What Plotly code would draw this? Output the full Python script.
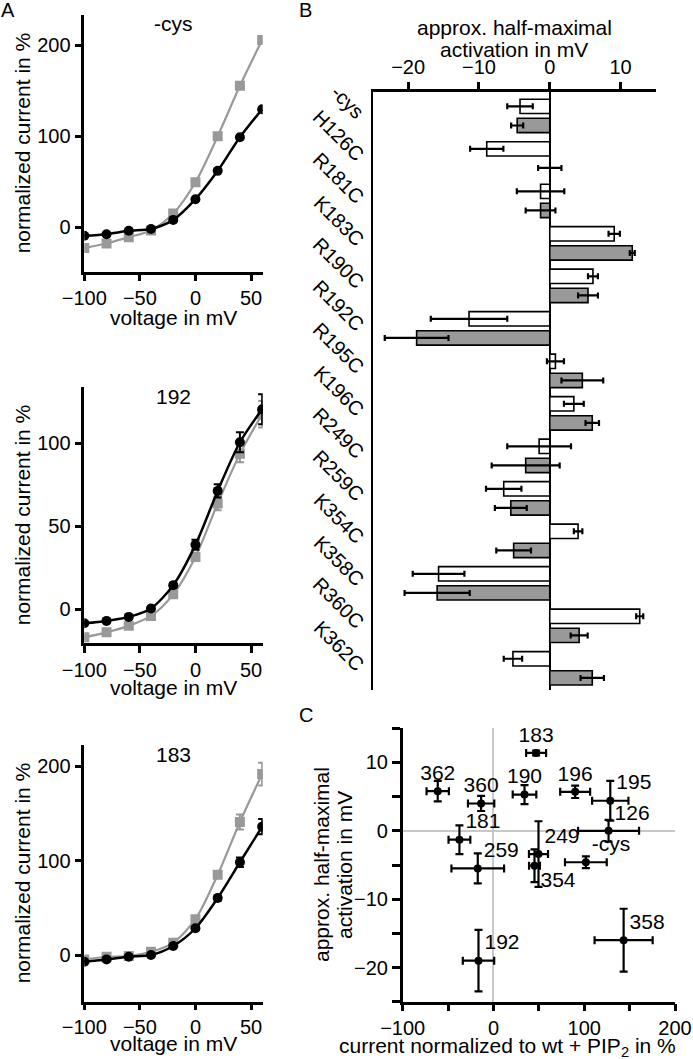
import plotly.graph_objects as go

W, H = 693, 1059
FONT = "Liberation Sans, Arial, sans-serif"
GRAY = "#999999"

# ---------------- Panel A data ----------------
voltage = [-100, -80, -60, -40, -20, 0, 20, 40, 60]
voltage_ticks = [-100, -50, 0, 50]

cys_black = [-9.5, -7.7, -4, -2, 8, 30.8, 62, 99, 129.7]
cys_gray = [-23, -18, -11, -3.6, 15, 49.5, 100, 155.6, 206]

r192_black = [-8.4, -7, -4.6, 0.5, 14.5, 38.8, 71.3, 100.6, 120.5]
r192_black_err = [1, 1, 1, 1, 1.5, 3, 4, 6, 9]
r192_gray = [-16.9, -13.9, -10, -4, 9, 31.5, 63.7, 93.6, 117.5]
r192_gray_err = [1, 1, 1, 1, 1.5, 2.5, 4, 5, 8]

k183_black = [-7, -4.6, -1.8, 0, 9.6, 28.4, 60.4, 98.3, 136]
k183_black_err = [1, 1, 1, 1, 1, 2, 3, 5, 8]
k183_gray = [-4.6, -1.8, -1, 3.5, 13, 38, 85, 141, 191.7]
k183_gray_err = [1, 1, 1, 1, 1, 2, 3, 8, 12]

# ---------------- Panel B data ----------------
mutants = ["-cys", "H126C", "R181C", "K183C", "R190C", "R192C", "R195C",
           "K196C", "R249C", "R259C", "K354C", "K358C", "R360C", "K362C"]
v_white = [-4.2, -8.9, -1.3, 9.1, 6.1, -11.4, 0.8, 3.4, -1.5, -6.5, 4.0, -15.7, 12.7, -5.2]
v_white_err = [1.8, 2.35, 3.35, 0.8, 0.7, 5.4, 1.2, 1.4, 4.5, 2.5, 0.6, 3.65, 0.5, 1.3]
v_gray = [-4.6, 0.0, -1.3, 11.65, 5.4, -18.8, 4.6, 6.0, -3.4, -5.5, -5.1, -15.9, 4.15, 6.0]
v_gray_err = [0.85, 1.65, 2.1, 0.35, 1.4, 4.5, 2.95, 0.95, 4.8, 2.25, 2.45, 4.6, 1.2, 1.65]

# ---------------- Panel C data ----------------
c_labels = ["183", "362", "360", "190", "196", "195", "126", "181", "249",
            "354", "259", "-cys", "358", "192"]
c_current = [47, -61.4, -13.6, 34.2, 90, 128.7, 126.8, -37.5, 49.6, 45.2,
             -17.3, 101.8, 143.4, -16.5]
c_current_err = [11, 12.3, 14.5, 13, 16.5, 20, 33.6, 12, 10.5, 6, 29, 23, 32, 17.3]
c_v50 = [11.4, 5.8, 4.0, 5.3, 5.7, 4.4, 0, -1.3, -3.4, -5.1, -5.5, -4.6, -16, -19]
c_v50_err = [0.35, 1.5, 1.1, 1.4, 0.9, 2.9, 1.6, 2.1, 4.8, 2.4, 2.2, 0.85, 4.6, 4.5]
c_textpos = ["top center", "top center", "top center", "top center", "top center",
             "top right", "top right", "top right", "top right", "bottom right",
             "top right", "top right", "top right", "top right"]


def dx(a, b):
    return [a / W, b / W]


def dy(top, bottom):
    return [1 - bottom / H, 1 - top / H]


fig = go.Figure()

# Panel A traces
panels_A = [
    ("x", "y", cys_black, None, cys_gray, None),
    ("x2", "y2", r192_black, r192_black_err, r192_gray, r192_gray_err),
    ("x3", "y3", k183_black, k183_black_err, k183_gray, k183_gray_err),
]
for xa, ya, blk, blk_err, gr, gr_err in panels_A:
    fig.add_trace(go.Scatter(
        x=voltage, y=gr, xaxis=xa, yaxis=ya, mode="lines+markers",
        line=dict(color=GRAY, width=2.2, shape="spline", smoothing=0.8),
        marker=dict(symbol="square", size=10, color=GRAY),
        error_y=dict(type="data", array=gr_err, color=GRAY, thickness=2, width=4,
                     visible=gr_err is not None),
    ))
    fig.add_trace(go.Scatter(
        x=voltage, y=blk, xaxis=xa, yaxis=ya, mode="lines+markers",
        line=dict(color="black", width=2.5, shape="spline", smoothing=0.8),
        marker=dict(symbol="circle", size=10, color="black"),
        error_y=dict(type="data", array=blk_err, color="black", thickness=2, width=4,
                     visible=blk_err is not None),
    ))

# Panel B bars
fig.add_trace(go.Bar(
    y=mutants, x=v_white, orientation="h", xaxis="x4", yaxis="y4",
    marker=dict(color="white", line=dict(color="black", width=1.6)),
    error_x=dict(type="data", array=v_white_err, color="black", thickness=2.2, width=3),
))
fig.add_trace(go.Bar(
    y=mutants, x=v_gray, orientation="h", xaxis="x4", yaxis="y4",
    marker=dict(color=GRAY, line=dict(color="black", width=1.6)),
    error_x=dict(type="data", array=v_gray_err, color="black", thickness=2.2, width=3),
))

# Panel C scatter
fig.add_trace(go.Scatter(
    x=c_current, y=c_v50, xaxis="x5", yaxis="y5", mode="markers+text",
    text=c_labels, textposition=c_textpos,
    textfont=dict(family=FONT, size=21, color="black"),
    marker=dict(symbol="circle", size=8, color="black"),
    error_x=dict(type="data", array=c_current_err, color="black", thickness=2.2, width=4),
    error_y=dict(type="data", array=c_v50_err, color="black", thickness=2.2, width=4),
))

axis_common = dict(showgrid=False, zeroline=False, showline=True, linecolor="black",
                   linewidth=2.5, ticks="outside", ticklen=7, tickwidth=2.5,
                   tickcolor="black", automargin=False,
                   tickfont=dict(family=FONT, size=20, color="black"))

layout = dict(
    width=W, height=H, margin=dict(l=0, r=0, t=0, b=0, pad=0), autosize=False,
    paper_bgcolor="white", plot_bgcolor="white", showlegend=False,
    barmode="group", bargap=0.1, bargroupgap=0.25,
    font=dict(family=FONT, size=20, color="black"),
)

# Panel A axes
A_domains_y = [(15, 271.7, [-49, 233.5], [0, 100, 200]),
               (387.3, 643.3, [-20.5, 133.7], [0, 50, 100]),
               (745, 1001.7, [-49.4, 222.5], [0, 100, 200])]
for i, (top, bot, yr, yt) in enumerate(A_domains_y):
    sfx = "" if i == 0 else str(i + 1)
    layout["xaxis" + sfx] = dict(axis_common, domain=dx(84.3, 262.7), range=[-100, 60.5],
                                 tickvals=voltage_ticks, anchor="y" + sfx,
                                 ticklen=6 if i == 2 else 7)
    layout["yaxis" + sfx] = dict(axis_common, domain=dy(top, bot), range=yr,
                                 tickvals=yt, anchor="x" + sfx)

# Panel B axes
layout["xaxis4"] = dict(axis_common, domain=dx(372.7, 656), range=[-25, 15],
                        tickvals=[-20, -10, 0, 10], side="top", anchor="y4",
                        zeroline=True, zerolinecolor="black", zerolinewidth=2)
layout["yaxis4"] = dict(axis_common, domain=dy(91.7, 690), type="category",
                        range=[13.51, -0.57], ticks="", tickangle=45, anchor="x4",
                        linewidth=2, ticklabelstandoff=4)

# Panel C axes
layout["xaxis5"] = dict(axis_common, domain=dx(402.7, 675), range=[-100, 200],
                        tick0=0, dtick=100, anchor="y5", ticklen=7,
                        zeroline=True, zerolinecolor="#c8c8c8", zerolinewidth=2,
                        minor=dict(ticks="outside", dtick=50, tick0=0, ticklen=7,
                                   tickwidth=2.5, tickcolor="black"))
layout["yaxis5"] = dict(axis_common, domain=dy(728.3, 1001.7), range=[-25, 15],
                        tick0=0, dtick=10, anchor="x5", ticklen=8,
                        zeroline=True, zerolinecolor="#c8c8c8", zerolinewidth=2,
                        minor=dict(ticks="outside", dtick=5, tick0=0, ticklen=8,
                                   tickwidth=2.5, tickcolor="black"))

fig.update_layout(**layout)


def note(text, x, y, size=21, angle=0):
    fig.add_annotation(text=text, x=x / W, y=1 - y / H, xref="paper", yref="paper",
                       showarrow=False, xanchor="center", yanchor="middle",
                       textangle=angle, font=dict(family=FONT, size=size, color="black"))


# panel letters
note("A", 8, 10, size=20)
note("B", 305, 10, size=20)
note("C", 306, 715, size=20)

# Panel A titles
for (top, bot, _, _), lbl, xt_y in zip(A_domains_y, ["-cys", "192", "183"], [318, 687, 1043]):
    note("normalized current in %", 22, (top + bot) / 2, angle=-90)
    note("voltage in mV", 173, xt_y)
    note(lbl, 173, top + 9)

# Panel B title
note("approx. half-maximal", 514, 27)
note("activation in mV", 514, 49)

# Panel C titles
note("approx. half-maximal", 321, 865, angle=-90)
note("activation in mV", 344, 865, angle=-90)
note("current normalized to wt + PIP<sub>2</sub> in %", 507, 1047)

fig.write_html(
    "out.html",
    config={"displayModeBar": False, "displaylogo": False},
    post_script="document.body.style.margin='0px';document.body.style.overflow='hidden';",
)
